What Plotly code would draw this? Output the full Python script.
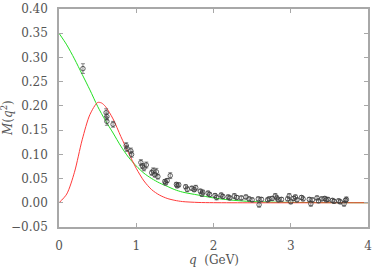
import plotly.graph_objects as go

# Curves
green_q = [0.0, 0.1, 0.2, 0.3, 0.4, 0.5, 0.6, 0.7, 0.8, 0.9, 1.0, 1.1, 1.2, 1.3, 1.4, 1.5, 1.6, 1.8, 2.0, 2.2, 2.5, 3.0, 3.5, 4.0]
green_m = [0.350, 0.326, 0.297, 0.265, 0.233, 0.199, 0.170, 0.144, 0.117, 0.094, 0.076, 0.061, 0.050, 0.041, 0.034, 0.027, 0.022, 0.016, 0.010, 0.006, 0.0025, 0.0008, 0.0003, 0.0001]

red_q = [0.0, 0.1, 0.2, 0.3, 0.4, 0.5, 0.55, 0.6, 0.7, 0.8, 0.9, 1.0, 1.1, 1.2, 1.3, 1.4, 1.5, 1.6, 1.8, 2.0, 2.5, 3.0, 4.0]
red_m = [0.0, 0.018, 0.063, 0.130, 0.182, 0.207, 0.206, 0.199, 0.173, 0.137, 0.103, 0.071, 0.045, 0.027, 0.016, 0.009, 0.005, 0.0025, 0.0007, 0.0002, 0.0, 0.0, 0.0]

# Lattice data points
data_q = [0.31, 0.61, 0.62, 0.62, 0.70, 0.87, 0.88, 0.93, 0.94, 1.06, 1.08, 1.10, 1.13,
          1.20, 1.22, 1.24, 1.26, 1.28, 1.37, 1.38, 1.40, 1.44, 1.52, 1.53, 1.55,
          1.64, 1.66, 1.72, 1.75, 1.77, 1.83, 1.85, 1.86, 1.93, 1.95, 2.02, 2.04,
          2.10, 2.12, 2.19, 2.21, 2.27, 2.30, 2.36, 2.42, 2.46, 2.50, 2.58, 2.59,
          2.62, 2.70, 2.72, 2.76, 2.80, 2.82, 2.84, 2.88, 2.96, 2.98, 3.00, 3.04,
          3.06, 3.08, 3.14, 3.16, 3.24, 3.26, 3.28, 3.34, 3.36, 3.40, 3.44, 3.46,
          3.48, 3.54, 3.56, 3.62, 3.64, 3.69, 3.71, 3.72]
data_m = [0.277, 0.186, 0.178, 0.168, 0.162, 0.118, 0.112, 0.107, 0.100, 0.083, 0.076, 0.072, 0.078,
          0.062, 0.066, 0.058, 0.064, 0.054, 0.044, 0.041, 0.046, 0.056, 0.038, 0.035, 0.037,
          0.033, 0.028, 0.030, 0.027, 0.031, 0.024, 0.018, 0.022, 0.020, 0.017, 0.015, 0.011,
          0.016, 0.013, 0.012, 0.010, 0.014, 0.011, 0.010, 0.012, 0.008, 0.006, 0.008, -0.004,
          0.007, 0.006, 0.008, 0.009, 0.014, 0.010, 0.006, 0.007, 0.008, 0.014, 0.002, 0.009,
          0.012, 0.006, 0.011, 0.008, 0.007, -0.002, 0.006, 0.010, 0.004, 0.008, 0.009, 0.006,
          0.007, 0.005, 0.003, 0.004, 0.002, -0.002, 0.005, 0.007]
data_err = [0.010, 0.008, 0.007, 0.008, 0.006, 0.006, 0.006, 0.006, 0.006, 0.006, 0.005, 0.006, 0.006,
            0.005, 0.006, 0.005, 0.007, 0.005, 0.004, 0.004, 0.004, 0.006, 0.004, 0.004, 0.004,
            0.004, 0.005, 0.004, 0.004, 0.005, 0.004, 0.005, 0.004, 0.004, 0.004, 0.004, 0.005,
            0.004, 0.004, 0.004, 0.004, 0.005, 0.004, 0.004, 0.004, 0.004, 0.004, 0.004, 0.005,
            0.004, 0.004, 0.004, 0.004, 0.005, 0.004, 0.004, 0.004, 0.004, 0.005, 0.004, 0.004,
            0.004, 0.004, 0.004, 0.004, 0.004, 0.005, 0.004, 0.004, 0.004, 0.004, 0.004, 0.004,
            0.004, 0.004, 0.004, 0.004, 0.004, 0.005, 0.004, 0.005]

x_ticks = [0, 1, 2, 3, 4]
y_ticks = [-0.05, 0.00, 0.05, 0.10, 0.15, 0.20, 0.25, 0.30, 0.35, 0.40]

FONT = "DejaVu Serif"
TXT = "#555555"
AX = "#a8a8a8"

fig = go.Figure()
fig.add_trace(go.Scatter(x=green_q, y=green_m, mode="lines", line=dict(color="#22e022", width=1, shape="spline", smoothing=0.8), hoverinfo="skip"))
fig.add_trace(go.Scatter(x=red_q, y=red_m, mode="lines", line=dict(color="#ff3a3a", width=1, shape="spline", smoothing=0.8), hoverinfo="skip"))
fig.add_trace(go.Scatter(
    x=data_q, y=data_m, mode="markers",
    marker=dict(symbol="circle-open", size=4.5, color="#3a3a3a", line=dict(width=0.8, color="#3a3a3a")),
    error_y=dict(type="data", array=data_err, color="#555555", thickness=0.7, width=2),
))

axis_common = dict(showgrid=False, zeroline=False, showline=True, linecolor=AX, linewidth=1.5,
                   mirror="ticks", ticks="inside", ticklen=4, tickcolor=AX, tickwidth=1,
                   ticklabeloverflow="allow",
                   tickfont=dict(family=FONT, size=12, color=TXT))
fig.update_xaxes(range=[0, 4], tickvals=x_ticks, ticktext=[str(v) for v in x_ticks], ticklabelstandoff=7, **axis_common)
fig.update_yaxes(range=[-0.05, 0.40], tickvals=y_ticks, ticktext=[("\u2212" if v < 0 else "") + f"{abs(v):.2f}" for v in y_ticks], ticklabelstandoff=7, **axis_common)

fig.add_annotation(text="<i>q</i>  (GeV)", xref="paper", yref="paper", x=0.5, y=0, yshift=-24,
                   xanchor="center", yanchor="top", showarrow=False, font=dict(family=FONT, size=12, color=TXT))
fig.add_annotation(text="<i>M</i>(<i>q</i><sup>2</sup>)", xref="paper", yref="paper", x=0, y=0.5, xshift=-52,
                   xanchor="center", yanchor="middle", textangle=-90, showarrow=False, font=dict(family=FONT, size=12, color=TXT))

fig.update_layout(width=374, height=273, margin=dict(l=59, r=2, t=5, b=46),
                  plot_bgcolor="white", paper_bgcolor="white", showlegend=False)
fig.write_html("out.html", config={"responsive": False, "displayModeBar": False},
               post_script="document.body.style.margin='0';document.body.style.padding='0';")
